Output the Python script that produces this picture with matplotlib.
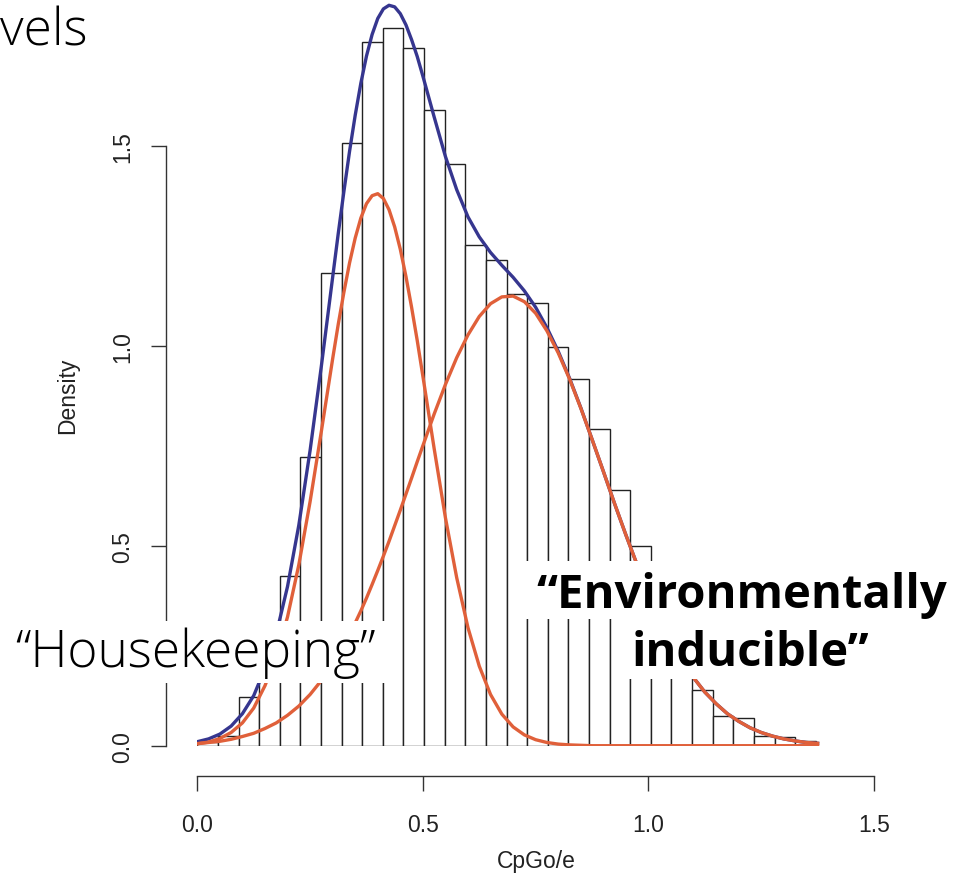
import numpy as np
import matplotlib
matplotlib.use('Agg')
import matplotlib.pyplot as plt
from matplotlib.patches import Rectangle

# histogram on density scale: 30 equal bins starting at 0
bin_start = 0.0
bin_width = 0.0457
density = [0.010, 0.024, 0.121, 0.250, 0.424, 0.722, 1.182, 1.507, 1.760, 1.793,
           1.743, 1.590, 1.453, 1.251, 1.213, 1.128, 1.106, 0.997, 0.917, 0.792,
           0.639, 0.500, 0.360, 0.235, 0.140, 0.075, 0.069, 0.024, 0.022, 0.011]

# fitted curves (finer sampling around the peaks)
curve_x = np.concatenate([np.linspace(0, 0.275, 12),
                          np.linspace(0.3, 0.4875, 16),
                          np.linspace(0.5, 1.375, 36)])
housekeeping = [0.005, 0.009, 0.018, 0.033, 0.057, 0.094, 0.150, 0.222, 0.322, 0.452,
                0.610, 0.786,
                0.967, 1.054, 1.134, 1.207, 1.269, 1.319, 1.355, 1.375, 1.380, 1.368,
                1.340, 1.297, 1.241, 1.173, 1.096, 1.013,
                0.924, 0.743, 0.570, 0.420, 0.295, 0.199, 0.128, 0.079, 0.047, 0.027,
                0.015, 0.008, 0.004, 0.002, 0.001, 0, 0, 0, 0, 0,
                0, 0, 0, 0, 0, 0, 0, 0, 0, 0,
                0, 0, 0, 0, 0, 0]
inducible = [0.005, 0.008, 0.011, 0.016, 0.023, 0.031, 0.043, 0.057, 0.076, 0.099,
             0.128, 0.163,
             0.204, 0.227, 0.252, 0.279, 0.307, 0.337, 0.369, 0.403, 0.438, 0.474,
             0.511, 0.550, 0.589, 0.629, 0.669, 0.710,
             0.750, 0.829, 0.903, 0.970, 1.027, 1.073, 1.105, 1.122, 1.124, 1.110,
             1.081, 1.037, 0.982, 0.917, 0.844, 0.766, 0.686, 0.605, 0.527, 0.452,
             0.382, 0.319, 0.263, 0.213, 0.170, 0.134, 0.105, 0.080, 0.061, 0.045,
             0.033, 0.024, 0.017, 0.012, 0.008, 0.006]
mixture = [0.010, 0.017, 0.029, 0.049, 0.080, 0.125, 0.193, 0.279, 0.398, 0.551,
           0.738, 0.949,
           1.171, 1.281, 1.386, 1.486, 1.576, 1.656, 1.724, 1.778, 1.818, 1.842,
           1.851, 1.847, 1.830, 1.802, 1.765, 1.723,
           1.674, 1.572, 1.473, 1.390, 1.322, 1.272, 1.233, 1.201, 1.171, 1.137,
           1.096, 1.045, 0.986, 0.919, 0.845, 0.766, 0.686, 0.605, 0.527, 0.452,
           0.382, 0.319, 0.263, 0.213, 0.170, 0.134, 0.105, 0.080, 0.061, 0.045,
           0.033, 0.024, 0.017, 0.012, 0.008, 0.006]

tick_vals = [0.0, 0.5, 1.0, 1.5]
tick_labels = ['0.0', '0.5', '1.0', '1.5']

W, H = 971, 879
fig = plt.figure(figsize=(W / 100, H / 100), dpi=100)
ax = fig.add_axes([197.3 / W, 1 - 746.7 / H, 676.7 / W, 746.7 / H])

edges = bin_start + np.arange(len(density)) * bin_width
ax.bar(edges, density, width=bin_width, align='edge', facecolor='white',
       edgecolor='#222222', linewidth=1.0)
ax.plot(curve_x, mixture, color='#36368f', linewidth=2.4, solid_joinstyle='round')
ax.plot(curve_x, housekeeping, color='#e0603a', linewidth=2.4, solid_joinstyle='round')
ax.plot(curve_x, inducible, color='#e0603a', linewidth=2.4, solid_joinstyle='round')

ax.set_xlim(0, 1.5)
ax.set_ylim(0, 1.8667)
for s in ['top', 'right']:
    ax.spines[s].set_visible(False)
ax.spines['bottom'].set_position(('outward', 21.6))
ax.spines['left'].set_position(('outward', 22.5))
ax.spines['bottom'].set_bounds(0, 1.5)
ax.spines['left'].set_bounds(0, 1.5)
for s in ['bottom', 'left']:
    ax.spines[s].set_color('#333333')
    ax.spines[s].set_linewidth(1.0)
ax.set_xticks(tick_vals, tick_labels)
ax.set_yticks(tick_vals, tick_labels)
ax.tick_params(length=11, width=1.0, color='#333333', labelsize=16.5,
               labelcolor='#222222')
ax.tick_params(axis='x', pad=16)
ax.tick_params(axis='y', pad=12, labelrotation=90)
for lab in ax.get_yticklabels():
    lab.set_va('center')
for lab in ax.get_xticklabels() + ax.get_yticklabels():
    lab.set_family('Liberation Sans')

fig.text(68 / W, 1 - 396 / H, 'Density', rotation=90, ha='center', va='center',
         fontsize=16.5, family='Liberation Sans', color='#222222')
fig.text(536 / W, 1 - 862 / H, 'CpGo/e', ha='center', va='center',
         fontsize=16.5, family='Liberation Sans', color='#222222')


def white_box(x0, y0, x1, y1):
    fig.add_artist(Rectangle((x0 / W, 1 - y1 / H), (x1 - x0) / W, (y1 - y0) / H,
                             transform=fig.transFigure, facecolor='white',
                             edgecolor='none', zorder=2))


white_box(0, 622, 402, 684)
white_box(525, 562, 971, 620)
white_box(617, 620, 885, 680)

fig.text(0, 1 - 45 / H, 'vels', ha='left', va='baseline', fontsize=37,
         family='Open Sans', weight='light', zorder=3)
fig.text(15 / W, 1 - 667 / H, '\u201cHousekeeping\u201d', ha='left', va='baseline',
         fontsize=37, family='Open Sans', weight='light', zorder=3)
fig.text(742 / W, 1 - 608 / H, '\u201cEnvironmentally', ha='center', va='baseline',
         fontsize=34, family='Open Sans', weight='bold', zorder=3)
fig.text(750 / W, 1 - 666 / H, 'inducible\u201d', ha='center', va='baseline',
         fontsize=34, family='Open Sans', weight='bold', zorder=3)

fig.savefig('out.png', dpi=100)
